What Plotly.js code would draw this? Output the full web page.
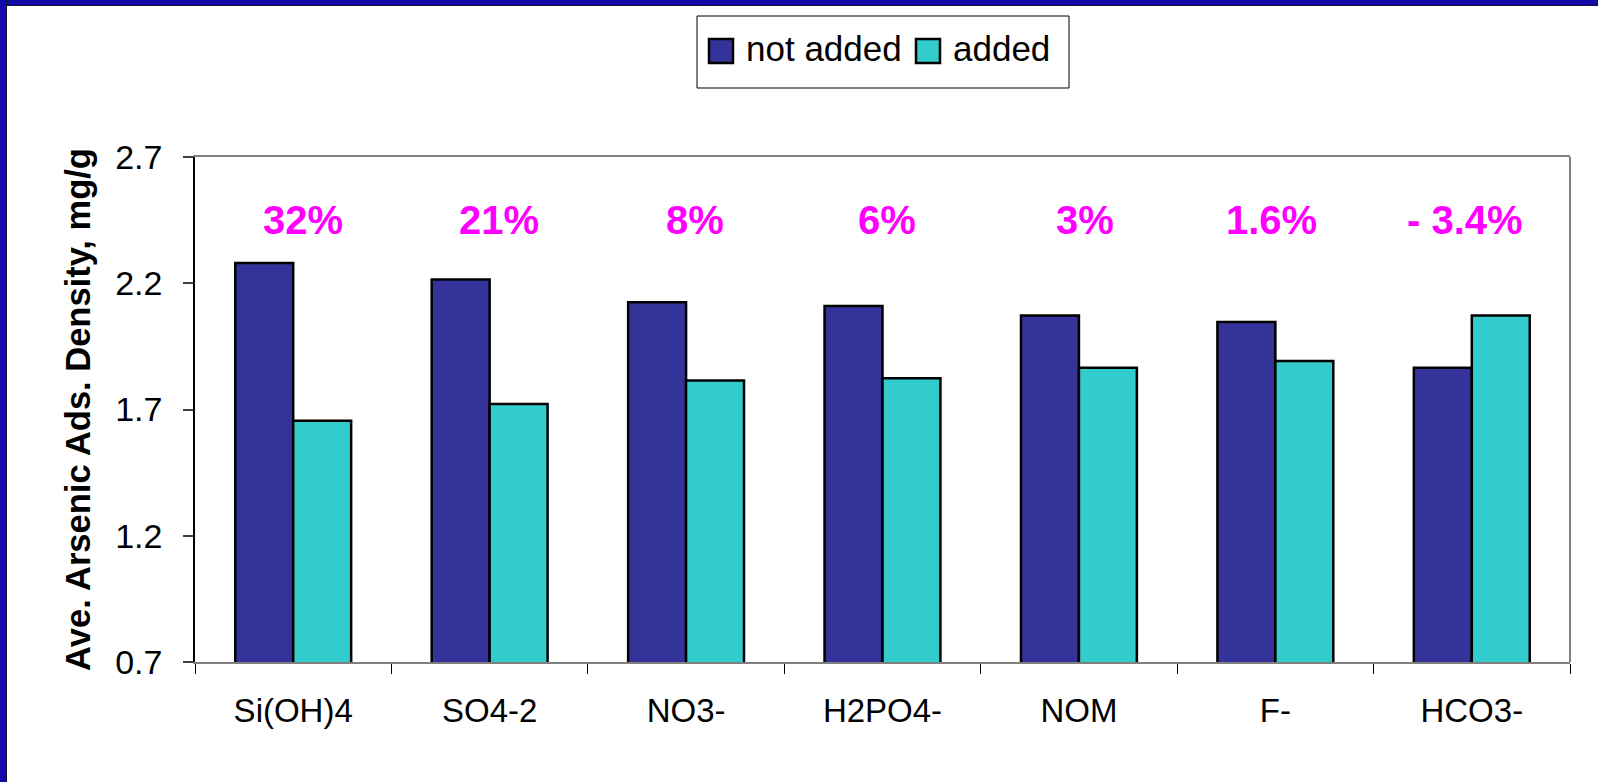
<!DOCTYPE html>
<html>
<head>
<meta charset="utf-8">
<script src="https://cdn.plot.ly/plotly-3.0.1.min.js"></script>
<style>
  html, body { margin: 0; padding: 0; background: #ffffff; }
  #wrap { position: relative; width: 1598px; height: 782px; overflow: hidden; }
  #chart { position: absolute; left: 0; top: 0; width: 1598px; height: 782px; }
  #bandTop { position: absolute; left: 0; top: 0; width: 1598px; height: 5px; background: #1109A8; border-bottom: 1px solid #101030; z-index: 5; }
  #bandLeft { position: absolute; left: 0; top: 0; width: 6px; height: 782px; background: #1109A8; border-right: 1px solid #101030; z-index: 5; }
</style>
</head>
<body>
<div id="wrap">
  <div id="chart"></div>
  <div id="bandTop"></div>
  <div id="bandLeft"></div>
</div>
<script>
// ---- data ----
const categories = ["Si(OH)4", "SO4-2", "NO3-", "H2PO4-", "NOM", "F-", "HCO3-"];
const notAdded = [2.28, 2.215, 2.125, 2.11, 2.072, 2.047, 1.865];
const added    = [1.655, 1.722, 1.815, 1.824, 1.865, 1.892, 2.072];
const pctLabels = ["32%", "21%", "8%", "6%", "3%", "1.6%", "- 3.4%"];
const seriesNames = ["not added", "added"];
const yTickVals = [0.7, 1.2, 1.7, 2.2, 2.7];
const yTickText = ["0.7", "1.2", "1.7", "2.2", "2.7"];

// ---- styling / layout helpers ----
const FONT = "Liberation Sans, Arial, Helvetica, sans-serif";
const seriesColors = ["#333399", "#33CCCC"];
const labelXShift = [10, 9, 9, 4, 6, -4, -7];

// plot area in pixels
const PL = 195, PR = 1570, PT = 157, PB = 662;
const px2x = p => (p - PL) / (PR - PL);
const px2y = p => (PB - p) / (PB - PT);

const traces = [0, 1].map(k => ({
  type: "bar", name: seriesNames[k], x: categories, y: k === 0 ? notAdded : added,
  marker: { color: seriesColors[k], line: { color: "#000000", width: 2.5 } },
  hoverinfo: "x+y+name", showlegend: false
}));

const annotations = categories.map((c, i) => ({
  x: c, y: 2.45, xref: "x", yref: "y",
  text: pctLabels[i], showarrow: false,
  xanchor: "center", yanchor: "middle", xshift: labelXShift[i],
  font: { family: FONT, size: 40, color: "#FF00FF", weight: "bold" }
}));

// custom legend (box + swatches + text), built from series names/colors
const legendBox = { type: "rect", xref: "paper", yref: "paper",
  x0: px2x(697), x1: px2x(1069), y0: px2y(88), y1: px2y(16),
  line: { color: "#000000", width: 1 }, fillcolor: "#ffffff", layer: "above" };
const swatchX = [709, 916];
const textX = [744, 951];
const shapes = [legendBox];
seriesNames.forEach((n, k) => {
  shapes.push({ type: "rect", xref: "paper", yref: "paper",
    x0: px2x(swatchX[k]), x1: px2x(swatchX[k] + 24), y0: px2y(63), y1: px2y(39),
    line: { color: "#000000", width: 2.5 }, fillcolor: seriesColors[k], layer: "above" });
  annotations.push({ xref: "paper", yref: "paper", x: px2x(textX[k]), y: px2y(48),
    xanchor: "left", yanchor: "middle", showarrow: false, text: n,
    font: { family: FONT, size: 35, color: "#000000" } });
});
shapes.push({ type: "line", xref: "paper", yref: "paper", x0: 1, x1: 1, y0: 0, y1: 1,
  line: { color: "#808080", width: 2 } });

const layout = {
  width: 1598, height: 782,
  margin: { l: PL, r: 1598 - PR, t: PT, b: 782 - PB, pad: 0 },
  paper_bgcolor: "#ffffff",
  plot_bgcolor: "#ffffff",
  font: { family: FONT, color: "#000000", size: 32 },
  barmode: "group",
  bargap: 0.41,
  bargroupgap: 0,
  showlegend: false,
  xaxis: {
    type: "category",
    showline: true, linecolor: "#808080", linewidth: 2,
    mirror: true,
    ticks: "outside", tickson: "boundaries", ticklen: 10, tickcolor: "#000000", tickwidth: 1,
    tickfont: { family: FONT, size: 33, color: "#000000" },
    ticklabelstandoff: 18,
    showgrid: false, zeroline: false, fixedrange: true
  },
  yaxis: {
    range: [0.7, 2.7],
    tickvals: yTickVals, ticktext: yTickText,
    showline: true, linecolor: "#000000", linewidth: 1.5,
    ticks: "outside", ticklen: 10, tickcolor: "#404040", tickwidth: 1.5,
    tickfont: { family: FONT, size: 34, color: "#000000" },
    ticklabelstandoff: 14,
    showgrid: false, zeroline: false, fixedrange: true,
    title: {
      text: "Ave. Arsenic Ads. Density, mg/g",
      font: { family: FONT, size: 34.5, color: "#000000", weight: "bold" },
      standoff: 14
    }
  },
  shapes: shapes,
  annotations: annotations
};

Plotly.newPlot("chart", traces, layout, { displayModeBar: false });
</script>
</body>
</html>
